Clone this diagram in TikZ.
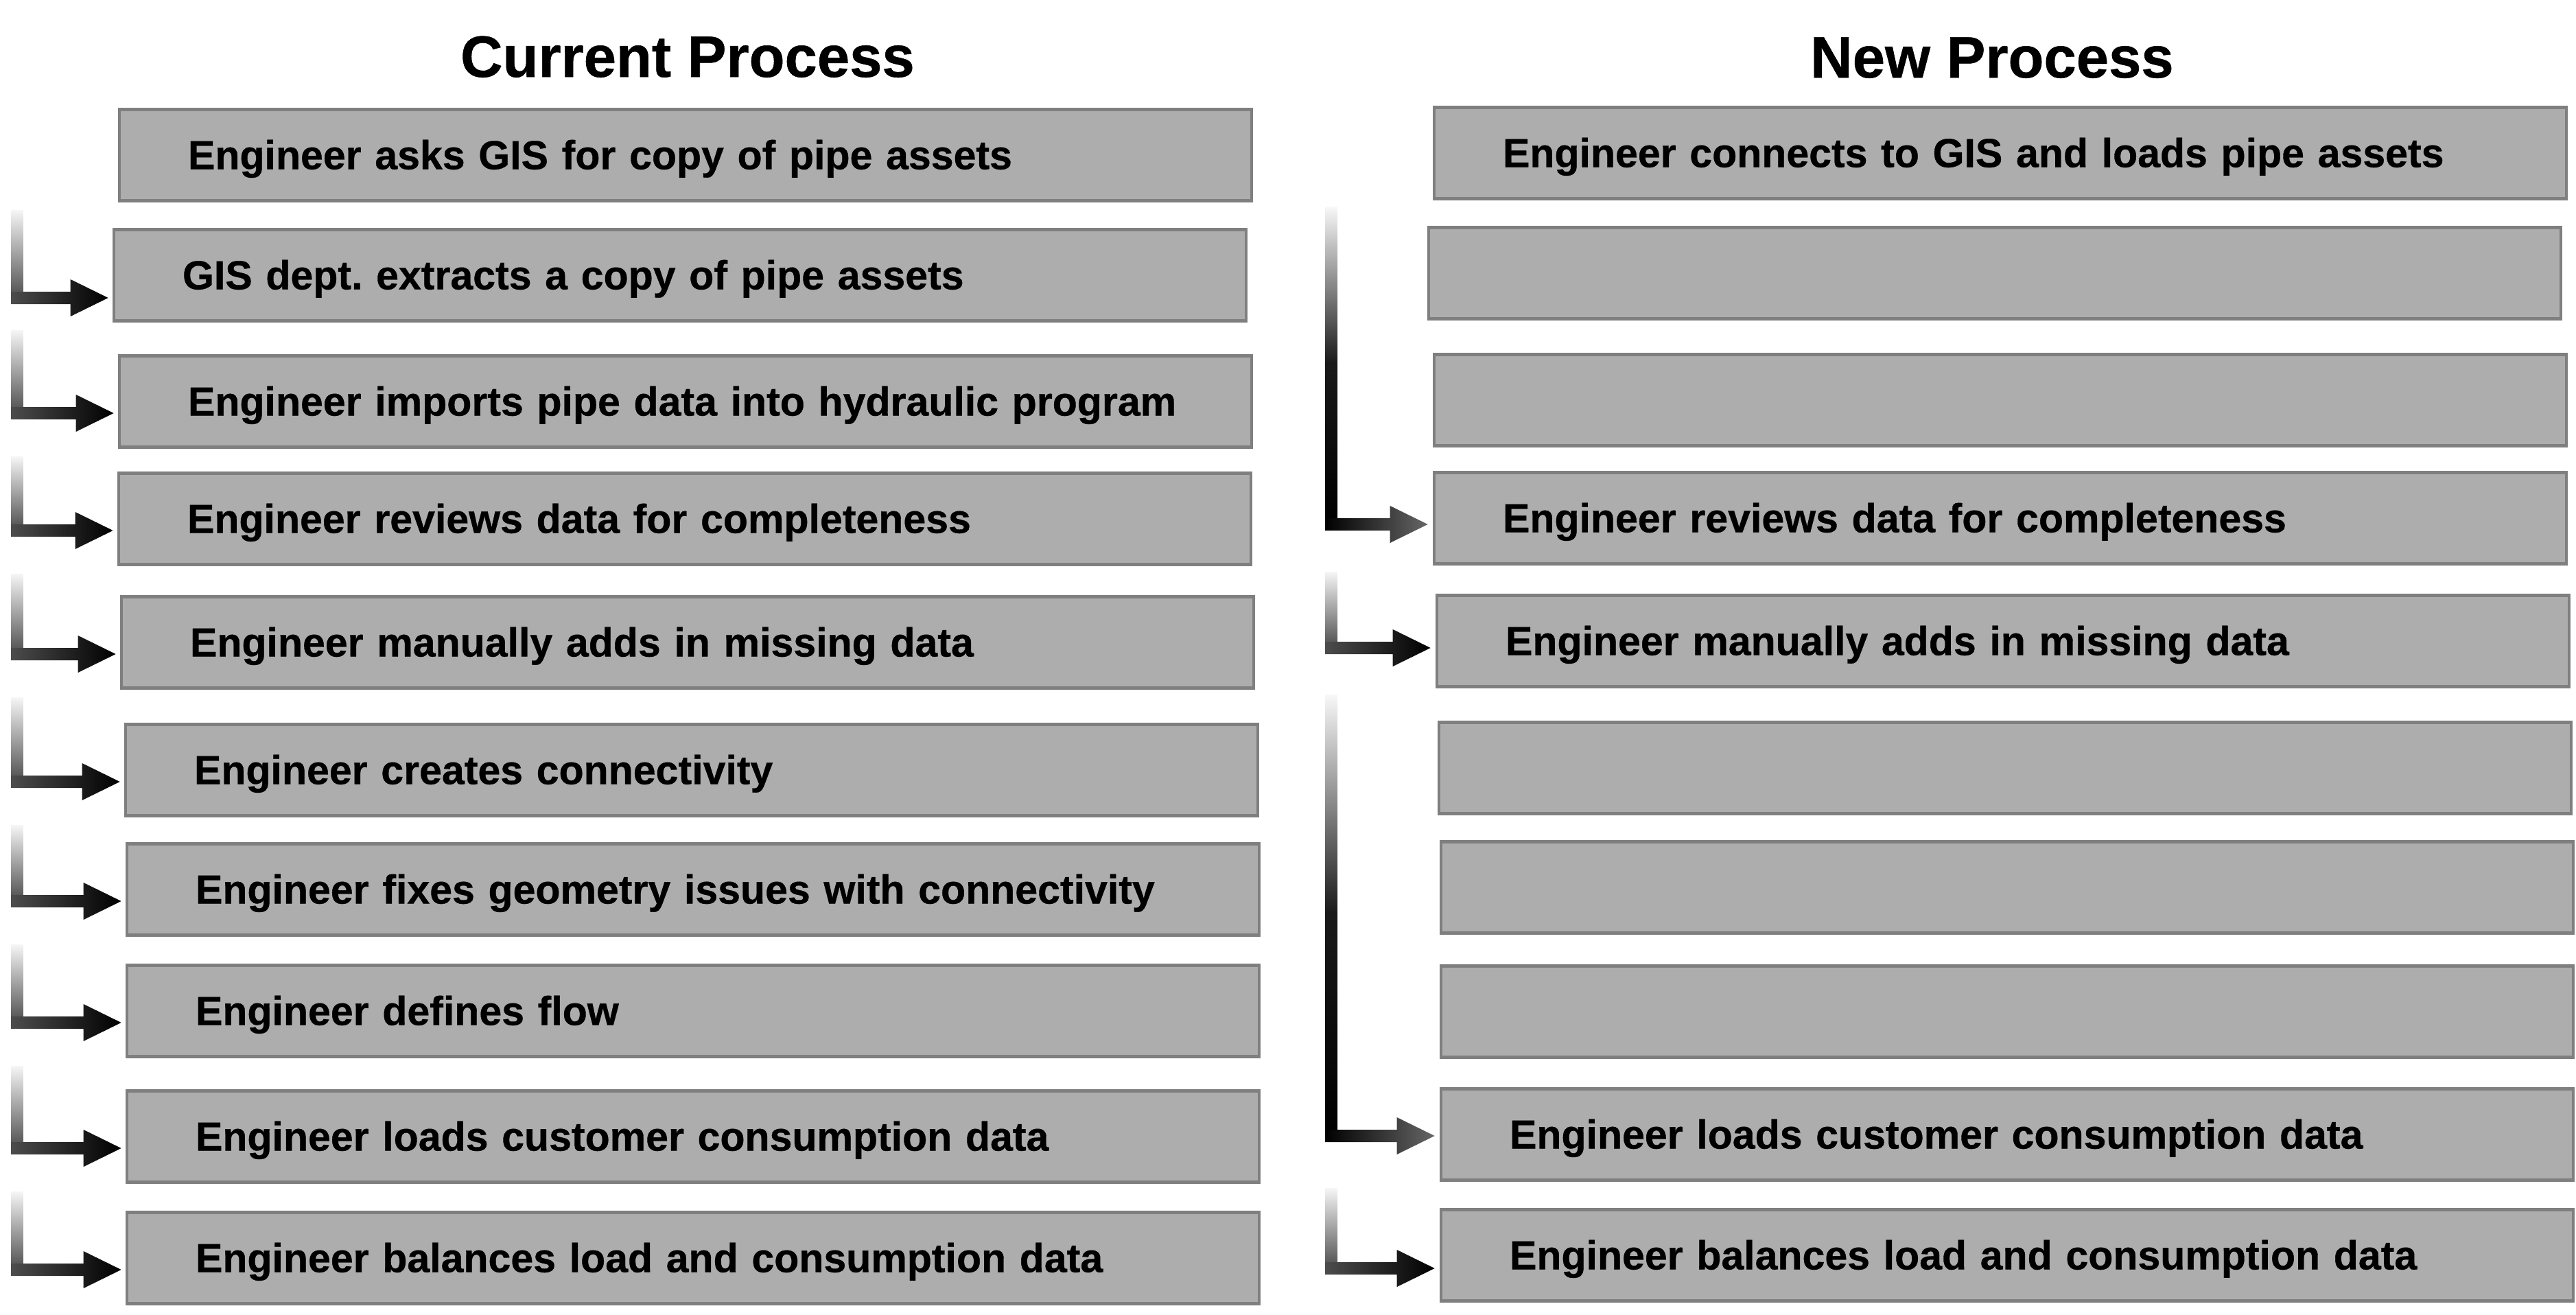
\documentclass[tikz,border=0pt]{standalone}
\usepackage{fontspec}
\setmainfont{Liberation Sans}[BoldFeatures={FakeBold=0.6}]
\frenchspacing
\usetikzlibrary{calc}

\definecolor{boxfill}{HTML}{ADADAD}
\definecolor{boxline}{HTML}{7F7F7F}

\tikzset{
  stepbox/.style={draw=boxline, fill=boxfill, line width=1.3pt,
    text width=14.5cm, inner xsep=1cm, minimum height=1.33cm,
    align=left, text height=0.41cm, text depth=0cm,
    font=\bfseries\fontsize{16.8}{20}\selectfont},
  headtitle/.style={anchor=base, font=\bfseries\fontsize{24.2}{29}\selectfont},
  barlight/.style={top color=gray!8, bottom color=black!65},
  headdark/.style={left color=black!70, right color=black},
  barfade/.style={top color=gray!6, bottom color=black, middle color=black!90},
  headfade/.style={left color=black, right color=black!60}
}

% bent arrow: #1 top of the bar, #2 tip, #3 bar shading, #4 head shading
\newcommand{\bentarrow}[4]{%
  \shade[#3] let \p1=(#1), \p2=(#2) in
    ({\x1-0.09cm},{\y1}) rectangle ({\x1+0.09cm},{\y2+0.09cm});
  \shade[#4] let \p1=(#1), \p2=(#2) in
    ({\x1-0.09cm},{\y2+0.09cm}) -- ({\x1-0.09cm},{\y2-0.09cm})
    -- ({\x2-0.55cm},{\y2-0.09cm}) -- ({\x2-0.55cm},{\y2-0.27cm})
    -- (\p2) -- ({\x2-0.55cm},{\y2+0.27cm})
    -- ({\x2-0.55cm},{\y2+0.09cm}) -- cycle;
}

\begin{document}
\begin{tikzpicture}
  \useasboundingbox (0,0) rectangle (37.54,-19.16);

  %TITLES
  \node[headtitle] (curtitle) at (10.02,-1.12) {Current Process};
  \node[headtitle] (newtitle) at (29.03,-1.13) {New Process};

  %CURRENT PROCESS
  \foreach \i/\x/\y/\txt in {
    1/9.99/2.26/Engineer asks GIS for copy of pipe assets,
    2/9.91/4.01/GIS dept. extracts a copy of pipe assets,
    3/9.99/5.85/Engineer imports pipe data into hydraulic program,
    4/9.98/7.56/Engineer reviews data for completeness,
    5/10.02/9.36/Engineer manually adds in missing data,
    6/10.08/11.22/Engineer creates connectivity,
    7/10.10/12.96/Engineer fixes geometry issues with connectivity,
    8/10.10/14.73/Engineer defines flow,
    9/10.10/16.56/Engineer loads customer consumption data,
    10/10.10/18.33/Engineer balances load and consumption data}
    \node[stepbox] (c\i) at (\x,-\y) {\mbox{\txt}};

  %NEW PROCESS
  \foreach \i/\x/\y/\txt in {
    1/29.15/2.23/Engineer connects to GIS and loads pipe assets,
    2/29.07/3.98/,
    3/29.15/5.83/,
    4/29.15/7.55/Engineer reviews data for completeness,
    5/29.19/9.34/Engineer manually adds in missing data,
    6/29.22/11.19/,
    7/29.25/12.93/,
    8/29.25/14.74/,
    9/29.25/16.53/Engineer loads customer consumption data,
    10/29.25/18.29/Engineer balances load and consumption data}
    \node[stepbox] (n\i) at (\x,-\y) {\mbox{\txt}};

  %ARROWS
  \coordinate (lbar) at (0.25,0);
  \coordinate (rbar) at (19.40,0);
  \foreach \i/\dy in {2/0.33,3/0.17,4/0.17,5/0.17,6/0.17,7/0.17,8/0.17,9/0.17,10/0.17}{
    \pgfmathtruncatemacro{\j}{\i-1}
    \coordinate (ct\i) at ([yshift=-0.12cm]c\j.south -| lbar);
    \coordinate (cp\i) at ([xshift=-0.06cm,yshift=-\dy cm]c\i.west);
    \bentarrow{ct\i}{cp\i}{barlight}{headdark}
  }
  \foreach \a/\b/\dy/\bar/\head in {1/4/0.09/barfade/headfade, 4/5/0.10/barlight/headdark,
                                    5/9/0.02/barfade/headfade, 9/10/0.19/barlight/headdark}{
    \coordinate (nt\b) at ([yshift=-0.10cm]n\a.south -| rbar);
    \coordinate (np\b) at ([xshift=-0.07cm,yshift=-\dy cm]n\b.west);
    \bentarrow{nt\b}{np\b}{\bar}{\head}
  }
\end{tikzpicture}
\end{document}
